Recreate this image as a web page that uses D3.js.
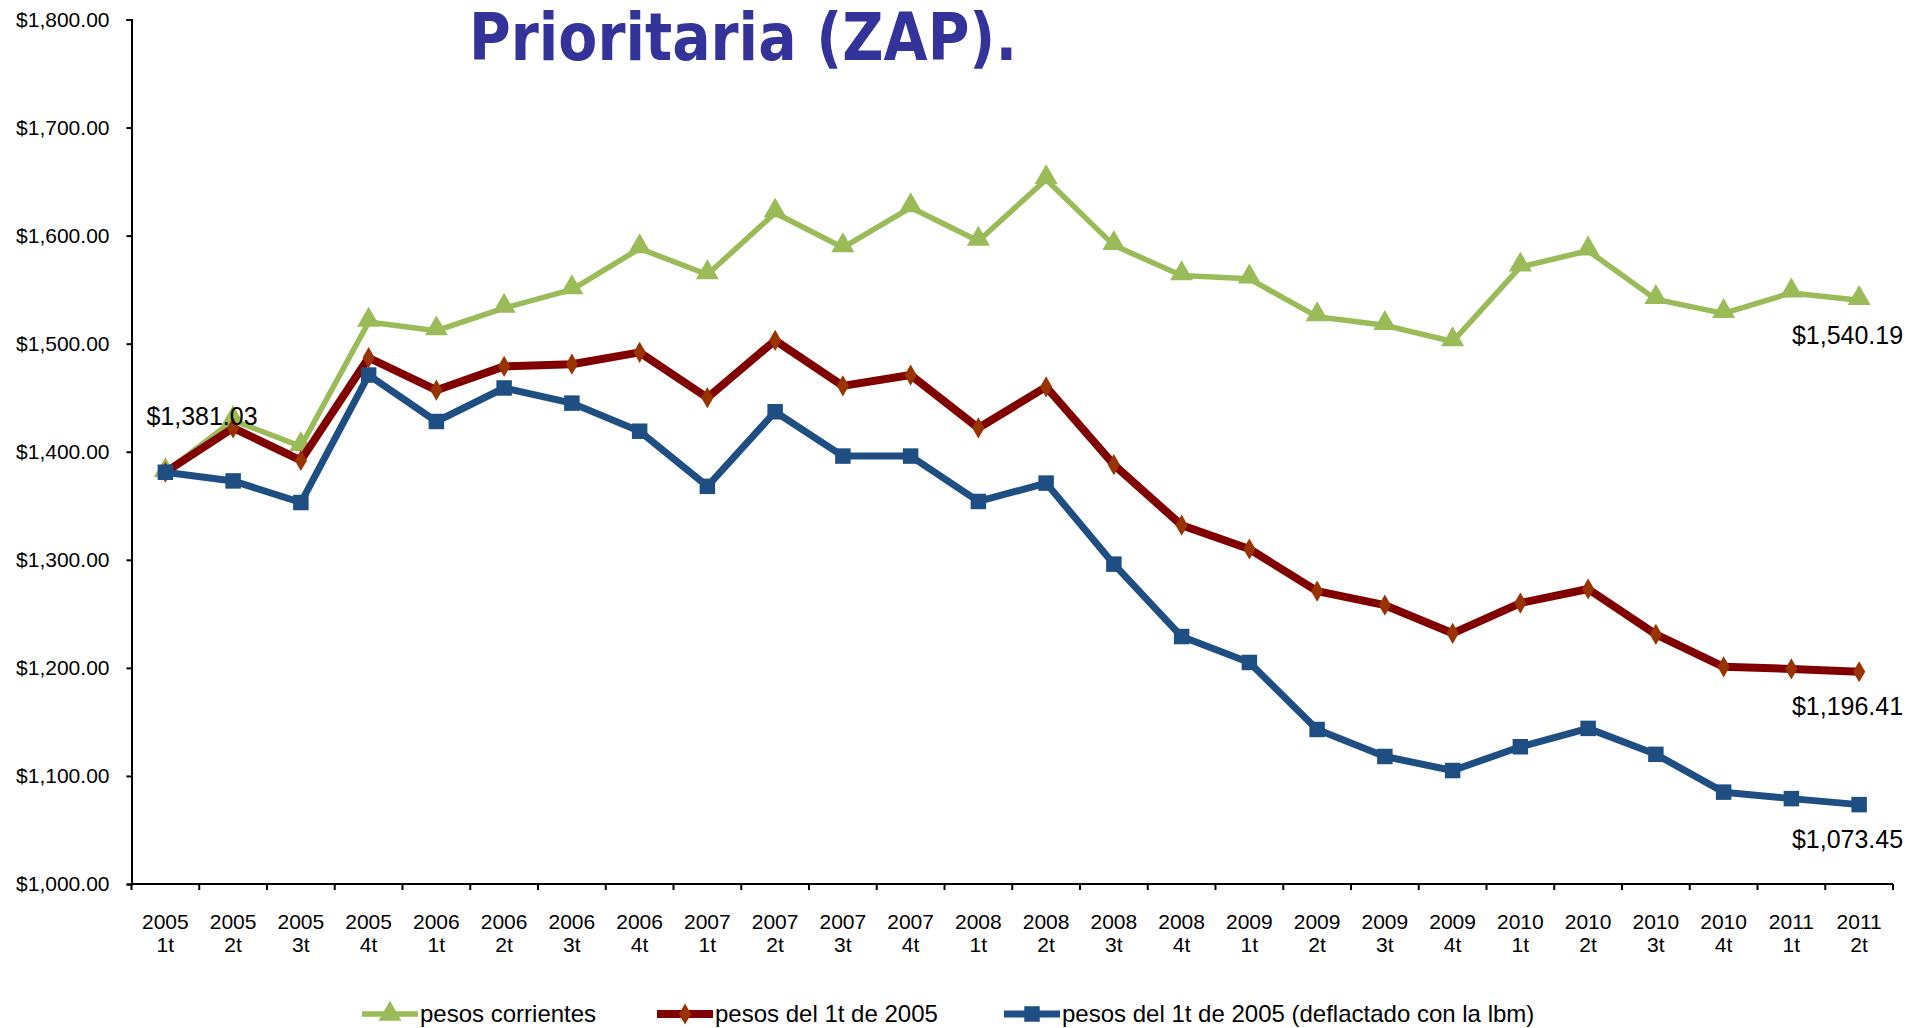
<!DOCTYPE html>
<html>
<head>
<meta charset="utf-8">
<script src="https://cdn.jsdelivr.net/npm/d3@7"></script>
<style>
  html, body { margin: 0; padding: 0; background: #ffffff; }
  svg { display: block; font-family: 'Liberation Sans', Arial, sans-serif; }
</style>
</head>
<body>
<div id="chart"></div>
<script>
const years = ['2005', '2005', '2005', '2005', '2006', '2006', '2006', '2006', '2007', '2007', '2007', '2007',
  '2008', '2008', '2008', '2008', '2009', '2009', '2009', '2009', '2010', '2010', '2010', '2010', '2011', '2011'];
const quarters = ['1t', '2t', '3t', '4t', '1t', '2t', '3t', '4t', '1t', '2t', '3t', '4t',
  '1t', '2t', '3t', '4t', '1t', '2t', '3t', '4t', '1t', '2t', '3t', '4t', '1t', '2t'];

const pesosCorrientes = [1381.03, 1429, 1405, 1520, 1512, 1533, 1550, 1588, 1564, 1621, 1589, 1626,
  1595, 1652, 1591, 1563, 1560, 1525, 1517, 1502, 1571, 1586, 1541, 1528, 1547, 1540.19];
const pesos2005 = [1381.03, 1422, 1392, 1487, 1457, 1479, 1481, 1492, 1450, 1503, 1461, 1471,
  1422, 1460, 1388, 1332, 1310, 1271, 1258, 1232, 1260, 1273, 1231, 1201, 1199, 1196.41];
const pesosDeflactado = [1381.03, 1373, 1353, 1471, 1428, 1459, 1445, 1419, 1368, 1437, 1396, 1396,
  1354, 1371, 1296, 1229, 1205, 1143, 1118, 1105, 1127, 1144, 1120, 1085, 1079, 1073.45];

const yTicks = [1000, 1100, 1200, 1300, 1400, 1500, 1600, 1700, 1800];
const seriesNames = ['pesos corrientes', 'pesos del 1t de 2005', 'pesos del 1t de 2005 (deflactado con la lbm)'];

const W = 1909, H = 1028;
const margin = { top: 19.5, right: 16, bottom: 144, left: 131.5 };
const width = W - margin.left - margin.right;
const height = H - margin.top - margin.bottom;

const svg = d3.select('#chart').append('svg')
  .attr('width', W)
  .attr('height', H);

const g = svg.append('g')
  .attr('transform', `translate(${margin.left},${margin.top})`);

const idx = d3.range(years.length);

const x = d3.scaleBand()
  .domain(idx)
  .range([0, width])
  .padding(0);

const y = d3.scaleLinear()
  .domain([1000, 1800])
  .range([height, 0]);

const cx = i => x(i) + x.bandwidth() / 2;

// Y axis
const yAxis = g.append('g')
  .attr('class', 'axis y-axis')
  .call(d3.axisLeft(y).tickValues(yTicks).tickSize(5).tickPadding(17)
    .tickFormat(d => '$' + d3.format(',.2f')(d)));
yAxis.select('.domain').attr('stroke', '#000').attr('stroke-width', 2);
yAxis.selectAll('.tick line').attr('stroke', '#000').attr('stroke-width', 2);
yAxis.selectAll('text')
  .style('fill', '#000')
  .style('font-size', '21px');

// X axis: ticks at band boundaries
const xAxis = g.append('g')
  .attr('class', 'axis x-axis')
  .attr('transform', `translate(0,${height})`);
xAxis.append('line')
  .attr('x1', 0).attr('x2', width)
  .attr('stroke', '#000').attr('stroke-width', 2);
xAxis.selectAll('.xtick')
  .data(d3.range(years.length + 1))
  .enter()
  .append('line')
  .attr('class', 'xtick')
  .attr('x1', d => d * x.bandwidth())
  .attr('x2', d => d * x.bandwidth())
  .attr('y1', 0).attr('y2', 6)
  .attr('stroke', '#000').attr('stroke-width', 2);

const xLabels = xAxis.selectAll('.xlabel')
  .data(idx)
  .enter()
  .append('text')
  .attr('class', 'xlabel')
  .attr('text-anchor', 'middle')
  .style('fill', '#000')
  .style('font-size', '21px');
xLabels.append('tspan')
  .attr('x', d => cx(d))
  .attr('y', 45)
  .text(d => years[d]);
xLabels.append('tspan')
  .attr('x', d => cx(d))
  .attr('y', 68)
  .text(d => quarters[d]);

const line = d3.line()
  .x((d, i) => cx(i))
  .y(d => y(d));

const triangle = d3.symbol().type(d3.symbolTriangle).size(230);
const diamond = d3.symbol().type(d3.symbolDiamond).size(130);
const square = d3.symbol().type(d3.symbolSquare).size(240);

// Green: pesos corrientes
g.append('path')
  .datum(pesosCorrientes)
  .attr('fill', 'none')
  .attr('stroke', '#9bbb59')
  .attr('stroke-width', 5.5)
  .attr('stroke-linejoin', 'round')
  .attr('d', line);
g.selectAll('.tri')
  .data(pesosCorrientes)
  .enter()
  .append('path')
  .attr('class', 'tri')
  .attr('d', triangle)
  .attr('transform', (d, i) => `translate(${cx(i)},${y(d) - 2})`)
  .attr('fill', '#9bbb59');

// Red: pesos del 1t de 2005
g.append('path')
  .datum(pesos2005)
  .attr('fill', 'none')
  .attr('stroke', '#800000')
  .attr('stroke-width', 8)
  .attr('stroke-linejoin', 'round')
  .attr('d', line);
g.selectAll('.dia')
  .data(pesos2005)
  .enter()
  .append('path')
  .attr('class', 'dia')
  .attr('d', diamond)
  .attr('transform', (d, i) => `translate(${cx(i)},${y(d)})`)
  .attr('fill', '#993300');

// Blue: deflactado
g.append('path')
  .datum(pesosDeflactado)
  .attr('fill', 'none')
  .attr('stroke', '#1f4e82')
  .attr('stroke-width', 7)
  .attr('stroke-linejoin', 'round')
  .attr('d', line);
g.selectAll('.sq')
  .data(pesosDeflactado)
  .enter()
  .append('path')
  .attr('class', 'sq')
  .attr('d', square)
  .attr('transform', (d, i) => `translate(${cx(i)},${y(d)})`)
  .attr('fill', '#1f4e82');

// Value labels
const fmt = d => '$' + d3.format(',.2f')(d);
const last = years.length - 1;
const valueLabels = [
  { i: 0, v: pesosCorrientes[0], dx: -19, dy: -47, anchor: 'start' },
  { i: last, v: pesosCorrientes[last], dx: 44, dy: 44, anchor: 'end' },
  { i: last, v: pesos2005[last], dx: 44, dy: 43, anchor: 'end' },
  { i: last, v: pesosDeflactado[last], dx: 44, dy: 43, anchor: 'end' }
];
g.selectAll('.vlabel')
  .data(valueLabels)
  .enter()
  .append('text')
  .attr('class', 'vlabel')
  .attr('x', d => cx(d.i) + d.dx)
  .attr('y', d => y(d.v) + d.dy)
  .attr('text-anchor', d => d.anchor)
  .style('fill', '#000')
  .style('font-size', '25px')
  .text(d => fmt(d.v));

// Title (cut off at top in the source)
svg.append('text')
  .attr('x', 469)
  .attr('y', 60)
  .attr('textLength', 548)
  .attr('lengthAdjust', 'spacingAndGlyphs')
  .style('font-family', "'DejaVu Sans', Verdana, sans-serif")
  .style('font-weight', 'bold')
  .style('font-size', '66px')
  .style('fill', '#333399')
  .text('Prioritaria (ZAP).');

// Legend
const legendItems = [
  { name: seriesNames[0], color: '#9bbb59', mcolor: '#9bbb59', sym: triangle, w: 5.5, x: 362 },
  { name: seriesNames[1], color: '#800000', mcolor: '#993300', sym: diamond, w: 8, x: 657 },
  { name: seriesNames[2], color: '#1f4e82', mcolor: '#1f4e82', sym: square, w: 7, x: 1004 }
];
const legend = svg.append('g').attr('transform', 'translate(0,1014)');
const li = legend.selectAll('.legend-item')
  .data(legendItems)
  .enter()
  .append('g')
  .attr('class', 'legend-item')
  .attr('transform', d => `translate(${d.x},0)`);
li.append('line')
  .attr('x1', 0).attr('x2', 56)
  .attr('stroke', d => d.color)
  .attr('stroke-width', d => d.w);
li.append('path')
  .attr('d', d => d.sym())
  .attr('transform', 'translate(28,0)')
  .attr('fill', d => d.mcolor);
li.append('text')
  .attr('x', 58)
  .attr('y', 8)
  .style('fill', '#000')
  .style('font-size', '24px')
  .text(d => d.name);
</script>
</body>
</html>
